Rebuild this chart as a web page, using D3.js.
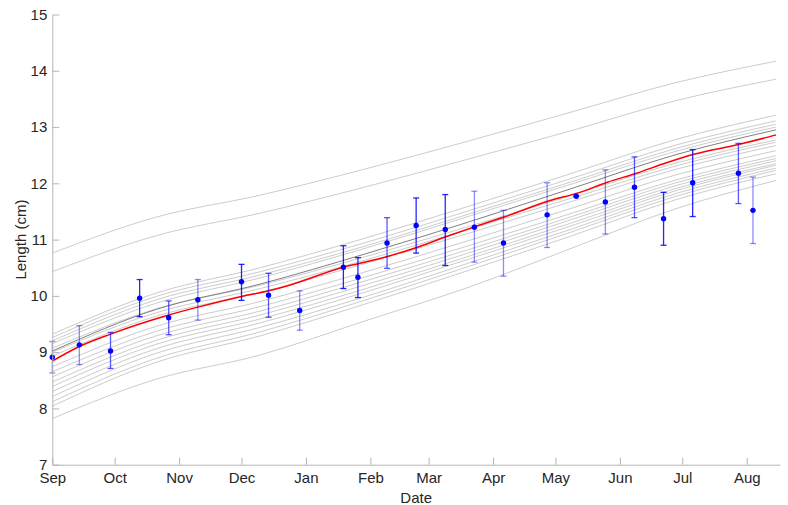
<!DOCTYPE html>
<html>
<head>
<meta charset="utf-8">
<script src="https://cdn.jsdelivr.net/npm/d3@7"></script>
<style>
  body { margin: 0; background: #fff; }
  svg { display: block; font-family: "Liberation Sans", Arial, Helvetica, sans-serif; }
  .axis path, .axis line { stroke: #b5b5b5; }
  .axis text { fill: #262626; font-size: 15px; }
</style>
</head>
<body>
<script>
// observations (date, mean, upper, lower)
const obsDates = ["2018-09-01", "2018-09-14", "2018-09-29", "2018-10-13", "2018-10-27", "2018-11-10",
    "2018-12-01", "2018-12-14", "2018-12-29", "2019-01-19", "2019-01-26", "2019-02-09",
    "2019-02-23", "2019-03-09", "2019-03-23", "2019-04-06", "2019-04-27", "2019-05-11",
    "2019-05-25", "2019-06-08", "2019-06-22", "2019-07-06", "2019-07-28", "2019-08-04"];
const obsMean = [8.91, 9.13, 9.02, 9.96, 9.61, 9.93, 10.25, 10.01, 9.74, 10.51, 10.33, 10.94,
    11.25, 11.18, 11.22, 10.94, 11.44, 11.77, 11.67, 11.93, 11.37, 12.01, 12.18, 11.52];
const obsUpper = [9.19, 9.47, 9.35, 10.29, 9.91, 10.29, 10.56, 10.40, 10.09, 10.89, 10.68, 11.39,
    11.74, 11.80, 11.86, 11.52, 12.01, 11.77, 12.24, 12.47, 11.84, 12.60, 12.71, 12.11];
const obsLower = [8.63, 8.78, 8.71, 9.63, 9.31, 9.57, 9.92, 9.62, 9.39, 10.13, 9.97, 10.49,
    10.76, 10.54, 10.60, 10.35, 10.86, 11.77, 11.10, 11.39, 10.90, 11.41, 11.64, 10.93];
const barAlpha = [0.45, 0.45, 0.65, 0.85, 0.65, 0.45, 0.85, 0.65, 0.45, 0.85, 0.85, 0.65,
    0.85, 0.85, 0.45, 0.45, 0.45, 0.45, 0.45, 0.65, 0.85, 0.85, 0.65, 0.45];

// mean model curve (red)
const redDates = ["2018-09-01", "2018-09-14", "2018-09-29", "2018-10-27", "2018-11-10", "2018-12-01",
    "2018-12-14", "2018-12-24", "2019-01-19", "2019-01-27", "2019-02-10", "2019-02-24",
    "2019-03-10", "2019-03-24", "2019-04-07", "2019-04-28", "2019-05-12", "2019-05-26",
    "2019-06-09", "2019-06-23", "2019-07-07", "2019-07-28", "2019-08-12", "2019-08-15"];
const redValues = [8.84, 9.10, 9.32, 9.66, 9.80, 9.99, 10.09, 10.19, 10.51, 10.58, 10.71, 10.87,
    11.06, 11.24, 11.41, 11.69, 11.83, 12.02, 12.18, 12.36, 12.52, 12.69, 12.83, 12.86];

// individual model curves (grey), sampled along the season (days from Sep 1)
const greyDays = [0, 50, 100, 150, 200, 250, 300, 348];
const greyCurves = [
    [10.76, 11.40, 11.79, 12.25, 12.75, 13.27, 13.79, 14.17],
    [10.43, 11.07, 11.47, 11.93, 12.43, 12.94, 13.47, 13.85],
    [9.32, 10.05, 10.50, 11.02, 11.59, 12.18, 12.78, 13.21],
    [9.26, 9.99, 10.43, 10.94, 11.51, 12.09, 12.68, 13.11],
    [9.20, 9.93, 10.37, 10.88, 11.45, 12.03, 12.62, 13.05],
    [9.15, 9.87, 10.32, 10.84, 11.41, 11.99, 12.57, 13.00],
    [9.07, 9.77, 10.19, 10.69, 11.23, 11.79, 12.36, 12.77],
    [9.00, 9.70, 10.13, 10.63, 11.18, 11.74, 12.31, 12.73],
    [8.93, 9.64, 10.06, 10.57, 11.11, 11.68, 12.25, 12.67],
    [8.74, 9.46, 9.90, 10.42, 10.98, 11.56, 12.15, 12.58],
    [8.65, 9.37, 9.81, 10.33, 10.89, 11.47, 12.06, 12.49],
    [8.56, 9.29, 9.73, 10.26, 10.82, 11.41, 12.01, 12.44],
    [8.47, 9.21, 9.66, 10.19, 10.76, 11.36, 11.96, 12.40],
    [8.39, 9.14, 9.59, 10.12, 10.70, 11.30, 11.91, 12.35],
    [8.30, 9.06, 9.52, 10.06, 10.65, 11.25, 11.87, 12.32],
    [8.21, 8.98, 9.44, 9.98, 10.58, 11.19, 11.82, 12.27],
    [8.12, 8.89, 9.36, 9.92, 10.52, 11.14, 11.77, 12.23],
    [8.04, 8.82, 9.29, 9.85, 10.45, 11.07, 11.71, 12.17],
    [7.82, 8.52, 8.95, 9.55, 10.15, 10.85, 11.55, 12.05]
];
// the darker grey curve just above the mean
const darkGrey = [9.02, 9.76, 10.21, 10.74, 11.31, 11.91, 12.51, 12.95];

const yTicks = [7, 8, 9, 10, 11, 12, 13, 14, 15];

const parse = d3.timeParse("%Y-%m-%d");
const seasonStart = parse("2018-09-01");
const seasonEnd = parse("2019-08-17");

const width = 788, height = 505;
const margin = { top: 14.5, right: 8, bottom: 40.3, left: 52.3 };

const svg = d3.select("body").append("svg")
    .attr("width", width).attr("height", height);

const x = d3.scaleTime().domain([seasonStart, seasonEnd])
    .range([margin.left, width - margin.right]);
const y = d3.scaleLinear().domain([7, 15])
    .range([height - margin.bottom, margin.top]);

// grey curves
const greyLine = d3.line()
    .x((d, i) => x(d3.timeDay.offset(seasonStart, greyDays[i])))
    .y(d => y(d))
    .curve(d3.curveMonotoneX);

svg.append("g").selectAll("path").data(greyCurves).enter()
    .append("path")
    .attr("d", greyLine)
    .attr("fill", "none").attr("stroke", "#cccccc").attr("stroke-width", 1);

svg.append("path").datum(darkGrey)
    .attr("d", greyLine)
    .attr("fill", "none").attr("stroke", "#7f7f7f").attr("stroke-width", 1);

// red mean curve
const redLine = d3.line()
    .x((d, i) => x(parse(redDates[i])))
    .y(d => y(d))
    .curve(d3.curveMonotoneX);

svg.append("path").datum(redValues)
    .attr("d", redLine)
    .attr("fill", "none").attr("stroke", "#ff0000").attr("stroke-width", 1.5);

// error bars
const bars = svg.append("g").selectAll("g").data(obsMean).enter().append("g")
    .attr("stroke", "#0000ff")
    .attr("stroke-opacity", (d, i) => barAlpha[i])
    .attr("stroke-width", 1.3);
const cx = (d, i) => x(parse(obsDates[i]));
bars.append("line")
    .attr("x1", cx).attr("x2", cx)
    .attr("y1", (d, i) => y(obsUpper[i])).attr("y2", (d, i) => y(obsLower[i]));
bars.append("line")
    .attr("x1", (d, i) => cx(d, i) - 3).attr("x2", (d, i) => cx(d, i) + 3)
    .attr("y1", (d, i) => y(obsUpper[i])).attr("y2", (d, i) => y(obsUpper[i]));
bars.append("line")
    .attr("x1", (d, i) => cx(d, i) - 3).attr("x2", (d, i) => cx(d, i) + 3)
    .attr("y1", (d, i) => y(obsLower[i])).attr("y2", (d, i) => y(obsLower[i]));

// points
svg.append("g").selectAll("circle").data(obsMean).enter()
    .append("circle")
    .attr("cx", cx).attr("cy", d => y(d)).attr("r", 2.7)
    .attr("fill", "#0000ff");

// axes
const xAxis = d3.axisBottom(x)
    .ticks(d3.timeMonth.every(1))
    .tickFormat(d3.timeFormat("%b"))
    .tickSizeInner(-7).tickSizeOuter(0).tickPadding(8);
svg.append("g").attr("class", "axis")
    .attr("transform", "translate(0," + (height - margin.bottom) + ")")
    .call(xAxis);

const yAxis = d3.axisLeft(y)
    .tickValues(yTicks)
    .tickSizeInner(-7).tickSizeOuter(0).tickPadding(5);
svg.append("g").attr("class", "axis")
    .attr("transform", "translate(" + margin.left + ",0)")
    .call(yAxis);

svg.selectAll(".axis .domain").attr("stroke", "#b5b5b5");

// axis titles
svg.append("text")
    .attr("x", (margin.left + width - margin.right) / 2).attr("y", 503)
    .attr("text-anchor", "middle").attr("fill", "#262626").style("font-size", "15px")
    .text("Date");
svg.append("text")
    .attr("transform", "translate(26," + ((margin.top + height - margin.bottom) / 2) + ") rotate(-90)")
    .attr("text-anchor", "middle").attr("fill", "#262626").style("font-size", "15px")
    .text("Length (cm)");
</script>
</body>
</html>
